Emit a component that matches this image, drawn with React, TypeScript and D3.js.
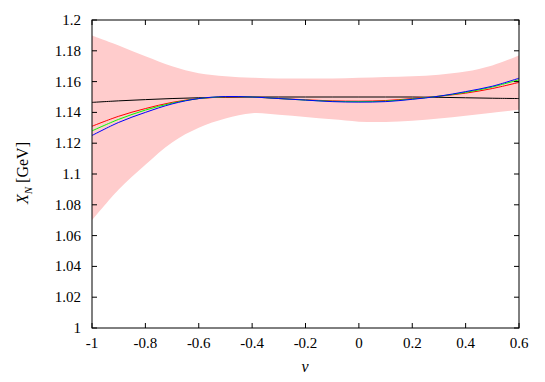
import React from 'react';
import * as d3 from 'd3';

// nu grid
const nu = [-1, -0.9, -0.8, -0.7, -0.6, -0.5, -0.4, -0.3, -0.2, -0.1, 0, 0.1, 0.2, 0.3, 0.4, 0.5, 0.6];

// error band
const bandUpper = [1.190, 1.1835, 1.1765, 1.170, 1.1655, 1.1635, 1.1625, 1.162, 1.162, 1.162, 1.1625, 1.163, 1.1635, 1.1645, 1.1665, 1.1705, 1.177];
const bandLower = [1.070, 1.090, 1.106, 1.1205, 1.130, 1.136, 1.1395, 1.1385, 1.137, 1.1355, 1.134, 1.1338, 1.1345, 1.136, 1.1378, 1.1398, 1.1418];

// curves
const blackLine = [1.1465, 1.1475, 1.1483, 1.149, 1.1495, 1.1498, 1.150, 1.150, 1.150, 1.150, 1.150, 1.150, 1.150, 1.1498, 1.1495, 1.1492, 1.149];
const redLine = [1.131, 1.1375, 1.1425, 1.1465, 1.149, 1.150, 1.150, 1.149, 1.1482, 1.1475, 1.1473, 1.1477, 1.149, 1.1505, 1.1525, 1.1555, 1.1595];
const greenLine = [1.128, 1.1355, 1.1415, 1.146, 1.149, 1.1502, 1.150, 1.149, 1.148, 1.1472, 1.147, 1.1473, 1.1487, 1.1505, 1.153, 1.1565, 1.1612];
const blueLine = [1.125, 1.1335, 1.140, 1.1455, 1.149, 1.1503, 1.150, 1.149, 1.148, 1.147, 1.1467, 1.147, 1.1485, 1.1505, 1.1535, 1.157, 1.1622];

const xTicks = [-1, -0.8, -0.6, -0.4, -0.2, 0, 0.2, 0.4, 0.6];
const yTicks = [1, 1.02, 1.04, 1.06, 1.08, 1.1, 1.12, 1.14, 1.16, 1.18, 1.2];

const W = 545;
const H = 382;
const left = 92, right = 519, top = 20, bottom = 328;
const font = "'Liberation Serif', serif";

const App = () => {
  const x = d3.scaleLinear().domain([-1, 0.6]).range([left, right]);
  const y = d3.scaleLinear().domain([1, 1.2]).range([bottom, top]);

  const area = d3.area<number>()
    .x((d, i) => x(nu[i]))
    .y0((d, i) => y(bandLower[i]))
    .y1(d => y(d))
    .curve(d3.curveCatmullRom);

  const line = d3.line<number>()
    .x((d, i) => x(nu[i]))
    .y(d => y(d))
    .curve(d3.curveCatmullRom);

  const curves = [
    { data: blackLine, color: '#000000' },
    { data: redLine, color: '#ff0000' },
    { data: greenLine, color: '#00ff00' },
    { data: blueLine, color: '#0000ff' },
  ];

  const tl = 5;

  return (
    <svg width={W} height={H} style={{ position: 'absolute', left: 0, top: 0, fontFamily: font }}>
      <rect width={W} height={H} fill="#fff" />
      <path d={area(bandUpper) || ''} fill="#ffcccc" />
      {curves.map((c, i) => (
        <path key={i} d={line(c.data) || ''} fill="none" stroke={c.color} strokeWidth={1} />
      ))}

      {/* ticks, mirrored inside */}
      {xTicks.map(t => (
        <g key={'x' + t}>
          <line x1={x(t)} x2={x(t)} y1={bottom} y2={bottom - tl} stroke="#000" />
          <line x1={x(t)} x2={x(t)} y1={top} y2={top + tl} stroke="#000" />
          <text x={x(t)} y={348} fontSize={15} textAnchor="middle">{t}</text>
        </g>
      ))}
      {yTicks.map(t => (
        <g key={'y' + t}>
          <line x1={left} x2={left + tl} y1={y(t)} y2={y(t)} stroke="#000" />
          <line x1={right} x2={right - tl} y1={y(t)} y2={y(t)} stroke="#000" />
          <text x={81} y={y(t) + 5} fontSize={15} textAnchor="end">{t}</text>
        </g>
      ))}

      <rect x={left} y={top} width={right - left} height={bottom - top} fill="none" stroke="#000" strokeWidth={1} />

      <text x={305} y={372} fontSize={16} textAnchor="middle" fontStyle="italic">ν</text>
      <text transform={`translate(28, 173) rotate(-90)`} fontSize={16} textAnchor="middle">
        <tspan fontStyle="italic">X</tspan>
        <tspan fontStyle="italic" fontSize={11} dy={4}>N</tspan>
        <tspan dy={-4}> [GeV]</tspan>
      </text>
    </svg>
  );
};

export default App;
